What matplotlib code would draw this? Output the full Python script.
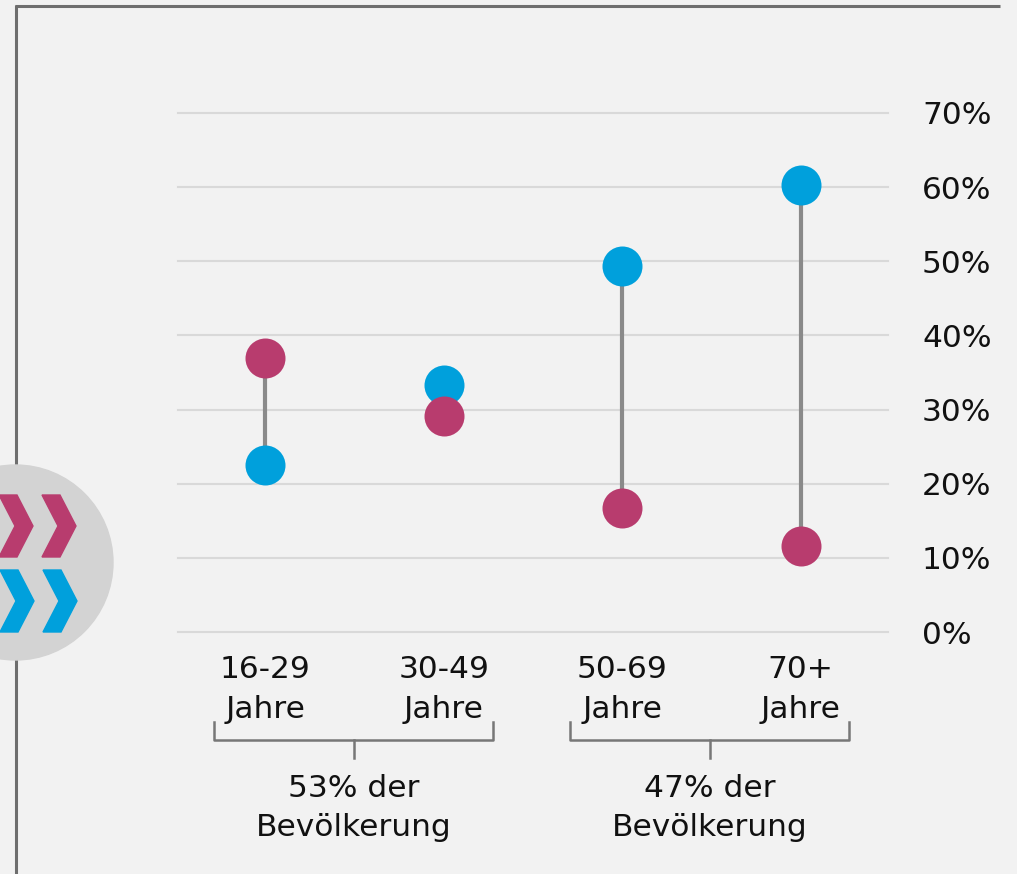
import matplotlib
matplotlib.use("Agg")
import matplotlib.pyplot as plt
from matplotlib.patches import Circle, Polygon
from matplotlib.lines import Line2D

plt.rcParams['font.family'] = ['DejaVu Sans']

# ---- data ----
categories = [["16-29", "Jahre"], ["30-49", "Jahre"], ["50-69", "Jahre"], ["70+", "Jahre"]]
blue_values = [22.5, 33.3, 49.4, 60.3]
pink_values = [36.9, 29.1, 16.7, 11.6]
y_ticks = [0, 10, 20, 30, 40, 50, 60, 70]
y_tick_labels = [f"{v}%" for v in y_ticks]
group_labels = [["53% der", "Bevölkerung"], ["47% der", "Bevölkerung"]]

BG = "#f2f2f2"
BLUE = "#00a0dc"
PINK = "#b83c6e"
STEM = "#8a8a8a"
GRID = "#d9d9d9"
BORDER = "#6e6e6e"
TXT = "#111111"
FS = 22.5

W, H = 1017, 874
fig = plt.figure(figsize=(W / 100, H / 100), dpi=100, facecolor=BG)

# overlay axes in pixel coords for decorations
deco = fig.add_axes([0, 0, 1, 1], zorder=0)
deco.set_xlim(0, W)
deco.set_ylim(H, 0)
deco.axis("off")
deco.set_facecolor("none")

# border lines
deco.add_line(Line2D([16, 16], [5, H], color=BORDER, lw=2.2, solid_capstyle="butt"))
deco.add_line(Line2D([15, 1000], [6, 6], color=BORDER, lw=2.2, solid_capstyle="butt"))
# gray circle with chevrons
deco.add_patch(Circle((15.5, 562.5), 97.5, color="#d3d3d3", zorder=3))
def chevron(x0, y0, color):
    pts = [(x0, y0), (x0 + 18, y0), (x0 + 34, y0 + 31), (x0 + 18, y0 + 62),
           (x0, y0 + 62), (x0 + 16, y0 + 31)]
    deco.add_patch(Polygon(pts, closed=True, color=color, zorder=4))
chevron(-1, 495, PINK)
chevron(42, 495, PINK)
chevron(0, 570, BLUE)
chevron(43, 570, BLUE)

# main axes
left, right = 178 / W, 888 / W
bottom, top = (H - 632) / H, (H - 113) / H
ax = fig.add_axes([left, bottom, right - left, top - bottom], zorder=2)
ax.set_facecolor("none")
ax.set_xlim(-0.49, 3.49)
ax.set_ylim(0, 70)
for s in ax.spines.values():
    s.set_visible(False)
ax.set_yticks(y_ticks)
ax.set_yticklabels(y_tick_labels, fontsize=FS, color=TXT)
ax.yaxis.tick_right()
ax.tick_params(axis="y", length=0, pad=24.5)
for lbl in ax.get_yticklabels():
    lbl.set_horizontalalignment("left")
ax.set_xticks([])
ax.grid(axis="y", color=GRID, lw=1.5)
for gl in ax.get_ygridlines():
    gl.set_clip_on(False)
ax.set_axisbelow(True)

x = list(range(len(categories)))
for i in x:
    ax.plot([i, i], [blue_values[i], pink_values[i]], color=STEM, lw=3, zorder=2,
            solid_capstyle="butt")
ax.scatter(x, blue_values, s=(40 * 0.72) ** 2, color=BLUE, zorder=3, clip_on=False,
           linewidths=0)
ax.scatter(x, pink_values, s=(40 * 0.72) ** 2, color=PINK, zorder=4, clip_on=False,
           linewidths=0)

# category labels (baselines at pixel rows 678 and 718)
for i, lines in enumerate(categories):
    for line, yb in zip(lines, [678, 718]):
        ax.annotate(line, xy=(i, 0), xycoords="data", xytext=(0, 632 - yb),
                    textcoords="offset pixels", ha="center", va="baseline",
                    fontsize=FS, color=TXT, annotation_clip=False)

# brackets and group labels (pixel coords on deco)
brackets = [(214, 493, 354), (570, 849, 710)]
for (xl, xr, xc), g in zip(brackets, group_labels):
    deco.add_line(Line2D([xl, xl, xr, xr], [722, 740, 740, 722], color="#777777", lw=1.8))
    deco.add_line(Line2D([xc, xc], [740, 758], color="#777777", lw=1.8))
    for line, yb in zip(g, [797, 836]):
        deco.text(xc, yb, line, ha="center", va="baseline", fontsize=FS, color=TXT)

fig.savefig("out.png", dpi=100, facecolor=BG)
